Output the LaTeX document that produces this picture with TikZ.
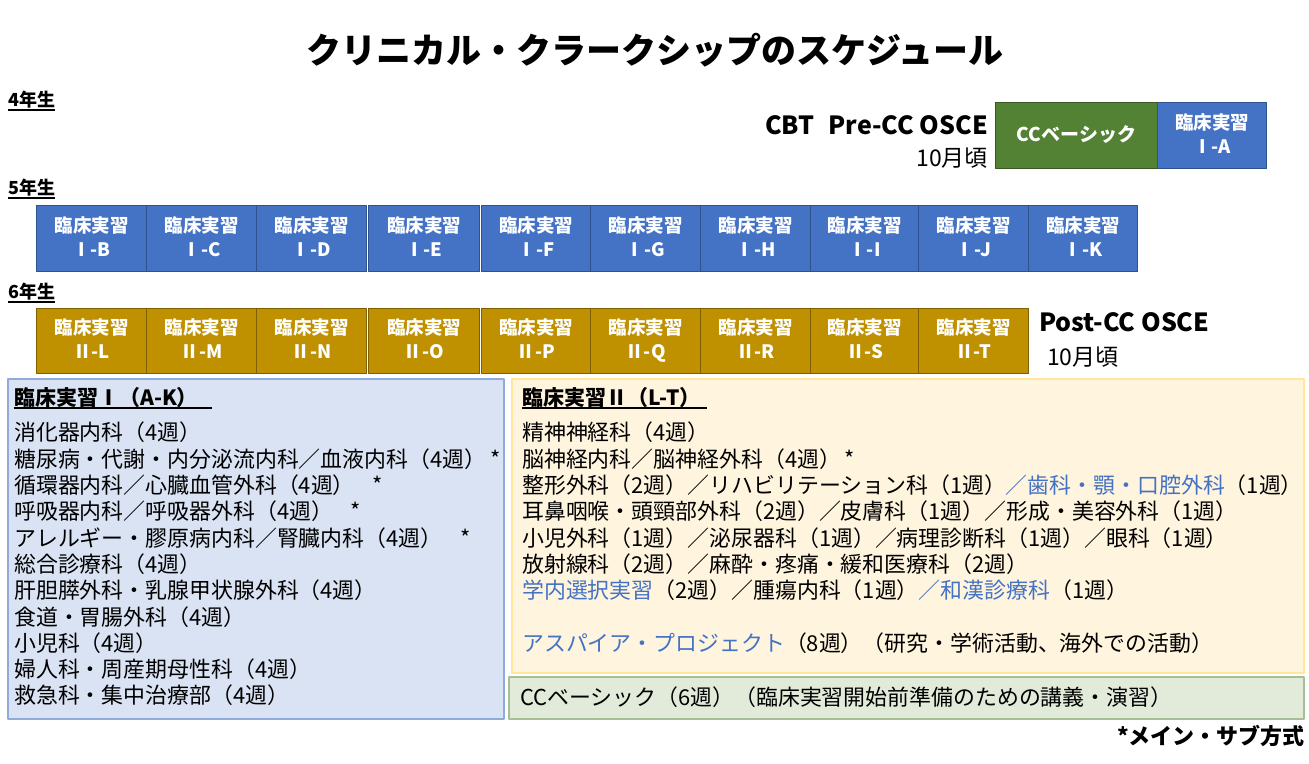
\documentclass[tikz,border=0pt]{standalone}
\usepackage{fontspec}
\setmainfont{Noto Sans CJK JP}
\usepackage{tikz}
\usetikzlibrary{positioning}

\definecolor{ccblue}{HTML}{4472C4}
\definecolor{ccblueline}{HTML}{2F528F}
\definecolor{ccgold}{HTML}{BF9000}
\definecolor{ccgoldline}{HTML}{7F6000}
\definecolor{ccgreen}{HTML}{548235}
\definecolor{ccgreenline}{HTML}{385723}
\definecolor{panelIfill}{HTML}{DAE3F3}
\definecolor{panelIline}{HTML}{8FAADC}
\definecolor{panelIIfill}{HTML}{FFF4DD}
\definecolor{panelIIline}{HTML}{FFE699}
\definecolor{notefill}{HTML}{E2EBDA}
\definecolor{noteline}{HTML}{A6BF96}

\newcommand\ulinetxt[1]{\setbox0\hbox{#1}\rlap{\rule[-4pt]{\wd0}{1.6pt}}\box0}

\begin{document}
\begin{tikzpicture}[
		x=1pt,
		y=-1pt,
		line join=round,
		yearlabel/.style={anchor=west, inner sep=0, font=\fontsize{18}{20}\selectfont\bfseries},
		clin/.style={draw, line width=1pt, anchor=north west, minimum height=66, inner sep=0,
			align=center, text=white, font=\fontsize{18.5}{24}\selectfont\bfseries,
			execute at end node={\vphantom{Qy}}},
		clinI/.style={clin, fill=ccblue, draw=ccblueline},
		clinII/.style={clin, fill=ccgold, draw=ccgoldline, minimum height=65},
		exam/.style={inner sep=0, font=\fontsize{25}{28}\selectfont\bfseries},
		when/.style={inner sep=0, font=\fontsize{23}{26}\selectfont},
		panel/.style={draw, line width=1.5pt, anchor=north west, inner sep=0},
		header/.style={anchor=west, inner sep=0, font=\fontsize{21}{24}\selectfont\bfseries},
		listtext/.style={anchor=north west, align=left, inner sep=0, font=\fontsize{21.9}{26.3}\selectfont}
		]
		
		\useasboundingbox (0,0) rectangle (1309,763);
		
		%------------------------------------------------------------------
		% Title
		%------------------------------------------------------------------
		\node[font=\fontsize{35}{40}\selectfont\bfseries] (title) at (655,50) {クリニカル・クラークシップのスケジュール};
		
		%------------------------------------------------------------------
		% 4th year
		%------------------------------------------------------------------
		\node[yearlabel] (y4) at (8,101) {\ulinetxt{4年生}};
		
		\node[exam, anchor=east] (cbt) at (988,125) {CBT\hspace{14pt}Pre-CC OSCE};
		\node[when, anchor=east] (cbtwhen) at (988,158) {10月頃};
		
		\node[clin, fill=ccgreen, draw=ccgreenline, minimum width=162,
		font=\fontsize{19}{24}\selectfont\bfseries] (ccbasic) at (995,102) {CCベーシック};
		\node[clinI, minimum width=109] (cA) at (1157,102) {臨床実習\\Ⅰ-A};
		
		%------------------------------------------------------------------
		% 5th year
		%------------------------------------------------------------------
		\node[yearlabel] (y5) at (8,189) {\ulinetxt{5年生}};
		
		\node[clinI, minimum width=110] (cB) at (36,205)   {臨床実習\\Ⅰ-B};
		\node[clinI, minimum width=110] (cC) at (146,205)  {臨床実習\\Ⅰ-C};
		\node[clinI, minimum width=110] (cD) at (256,205)  {臨床実習\\Ⅰ-D};
		\node[clinI, minimum width=111] (cE) at (368,205)  {臨床実習\\Ⅰ-E};
		\node[clinI, minimum width=109] (cF) at (481,205)  {臨床実習\\Ⅰ-F};
		\node[clinI, minimum width=110] (cG) at (590,205)  {臨床実習\\Ⅰ-G};
		\node[clinI, minimum width=110] (cH) at (700,205)  {臨床実習\\Ⅰ-H};
		\node[clinI, minimum width=108] (cI) at (810,205)  {臨床実習\\Ⅰ-I};
		\node[clinI, minimum width=110] (cJ) at (918,205)  {臨床実習\\Ⅰ-J};
		\node[clinI, minimum width=109] (cK) at (1028,205) {臨床実習\\Ⅰ-K};
		
		%------------------------------------------------------------------
		% 6th year
		%------------------------------------------------------------------
		\node[yearlabel] (y6) at (8,293) {\ulinetxt{6年生}};
		
		\node[clinII, minimum width=110] (cL) at (36,308)  {臨床実習\\Ⅱ-L};
		\node[clinII, minimum width=110] (cM) at (146,308) {臨床実習\\Ⅱ-M};
		\node[clinII, minimum width=110] (cN) at (256,308) {臨床実習\\Ⅱ-N};
		\node[clinII, minimum width=111] (cO) at (368,308) {臨床実習\\Ⅱ-O};
		\node[clinII, minimum width=109] (cP) at (481,308) {臨床実習\\Ⅱ-P};
		\node[clinII, minimum width=110] (cQ) at (590,308) {臨床実習\\Ⅱ-Q};
		\node[clinII, minimum width=110] (cR) at (700,308) {臨床実習\\Ⅱ-R};
		\node[clinII, minimum width=108] (cS) at (810,308) {臨床実習\\Ⅱ-S};
		\node[clinII, minimum width=110] (cT) at (918,308) {臨床実習\\Ⅱ-T};
		
		\node[exam, anchor=west] (postcc) at (1039,322) {Post-CC OSCE};
		\node[when, anchor=west] (postwhen) at (1047,357) {10月頃};
		
		%------------------------------------------------------------------
		% Panel I (A-K)
		%------------------------------------------------------------------
		\node[panel, fill=panelIfill, draw=panelIline, minimum width=496, minimum height=340] (panelI) at (7,378) {};
		\node[header] (hdrI) at (14,398) {\ulinetxt{臨床実習Ⅰ（A-K）\hspace{14pt}}};
		\node[listtext] (listI) at (14,422) {%
			消化器内科（4週）\\
			糖尿病・代謝・内分泌流内科／血液内科（4週）\hspace{4pt}*\\
			循環器内科／心臓血管外科（4週）\hspace{18pt}*\\
			呼吸器内科／呼吸器外科（4週）\hspace{18pt}*\\
			アレルギー・膠原病内科／腎臓内科（4週）\hspace{18pt}*\\
			総合診療科（4週）\\
			肝胆膵外科・乳腺甲状腺外科（4週）\\
			食道・胃腸外科（4週）\\
			小児科（4週）\\
			婦人科・周産期母性科（4週）\\
			救急科・集中治療部（4週）};
		
		%------------------------------------------------------------------
		% Panel II (L-T)
		%------------------------------------------------------------------
		\node[panel, fill=panelIIfill, draw=panelIIline, minimum width=792, minimum height=294] (panelII) at (511,378) {};
		\node[header] (hdrII) at (522,398) {\ulinetxt{臨床実習Ⅱ（L-T）\hspace{6pt}}};
		\node[listtext] (listII) at (522,422) {%
			精神神経科（4週）\\
			脳神経内科／脳神経外科（4週）\hspace{4pt}*\\
			整形外科（2週）／リハビリテーション科（1週）\textcolor{ccblue}{／歯科・顎・口腔外科}（1週）\\
			耳鼻咽喉・頭頸部外科（2週）／皮膚科（1週）／形成・美容外科（1週）\\
			小児外科（1週）／泌尿器科（1週）／病理診断科（1週）／眼科（1週）\\
			放射線科（2週）／麻酔・疼痛・緩和医療科（2週）\\
			\textcolor{ccblue}{学内選択実習}（2週）／腫瘍内科（1週）\textcolor{ccblue}{／和漢診療科}（1週）\\[26.3pt]
			\textcolor{ccblue}{アスパイア・プロジェクト}（8週）（研究・学術活動、海外での活動）};
		
		%------------------------------------------------------------------
		% CC basic note and footnote
		%------------------------------------------------------------------
		\node[panel, fill=notefill, draw=noteline, minimum width=795, minimum height=42] (note) at (508,676) {};
		\node[listtext, anchor=west] (notetext) at (520,697) {CCベーシック（6週）（臨床実習開始前準備のための講義・演習）};
		
		\node[inner sep=0, anchor=east, font=\fontsize{22}{26}\selectfont\bfseries] (footnote) at (1305,736) {*メイン・サブ方式};
		
	\end{tikzpicture}
\end{document}
